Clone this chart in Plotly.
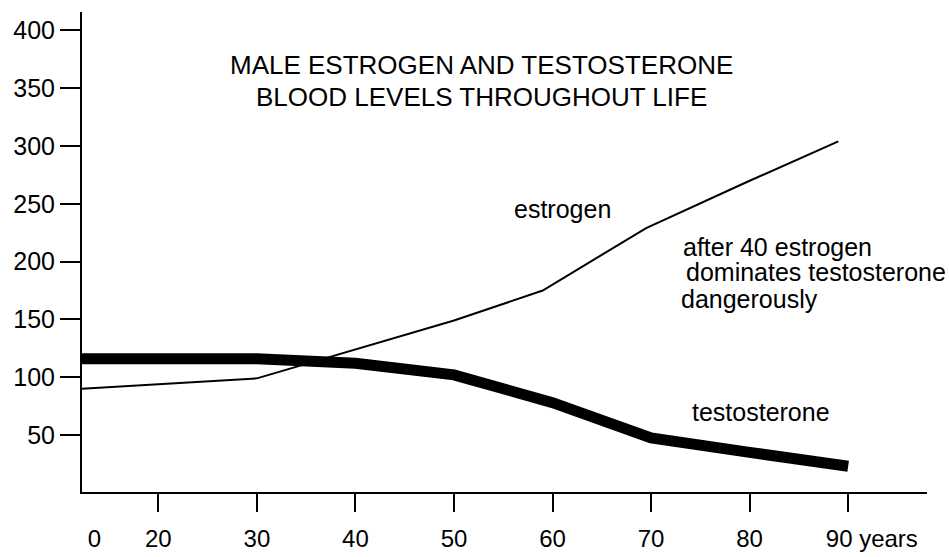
import plotly.graph_objects as go

# ---- data ----
ages_estrogen = [0, 30, 50, 59, 69.5, 79.5, 89]
estrogen = [90, 99, 149, 175, 229, 268, 304]

ages_testosterone = [0, 30, 40, 50, 60, 70, 80, 90]
testosterone = [116, 116, 112, 102, 78, 47.5, 35, 23]

tick_ages = [20, 30, 40, 50, 60, 70, 80, 90]
tick_labels = ["0", "20", "30", "40", "50", "60", "70", "80", "90 years"]
y_ticks = [50, 100, 150, 200, 250, 300, 350, 400]

title_lines = ["MALE ESTROGEN AND TESTOSTERONE", "BLOOD LEVELS THROUGHOUT LIFE"]
note_lines = ["after 40 estrogen", "dominates testosterone", "dangerously"]

# ---- axis geometry (style) ----
X_START = 12.25          # where age "0" sits (the axis origin; the 0-20 gap is compressed)
X_END = 98.0
Y_RANGE = [0.7, 415.9]
FONT = "Liberation Sans, Arial, sans-serif"


def xpos(age):
    return X_START if age == 0 else age


label_positions = [13.5] + tick_ages[:-1] + [92.4]

fig = go.Figure()
fig.add_trace(go.Scatter(
    x=[xpos(a) for a in ages_estrogen], y=estrogen, mode="lines",
    line=dict(color="black", width=2), xaxis="x2", yaxis="y",
    name="estrogen", hoverinfo="skip"))
fig.add_trace(go.Scatter(
    x=[xpos(a) for a in ages_testosterone], y=testosterone, mode="lines",
    line=dict(color="black", width=11), xaxis="x", yaxis="y",
    name="testosterone", hoverinfo="skip"))

annotations = []
for i, t in enumerate(title_lines):
    annotations.append(dict(x=52.8, y=[370, 342.5][i], xref="x", yref="y", text=t,
                            showarrow=False, xanchor="center", yanchor="middle",
                            font=dict(family=FONT, size=26, color="black")))
annotations.append(dict(x=55.9, y=245.5, xref="x", yref="y", text="estrogen",
                        showarrow=False, xanchor="left", yanchor="middle",
                        font=dict(family=FONT, size=25, color="black")))
for i, t in enumerate(note_lines):
    annotations.append(dict(x=[73.0, 73.3, 72.85][i], y=[212.2, 191.2, 167.5][i],
                            xref="x", yref="y", text=t, showarrow=False,
                            xanchor="left", yanchor="middle",
                            font=dict(family=FONT, size=25, color="black")))
annotations.append(dict(x=73.9, y=69.5, xref="x", yref="y", text="testosterone",
                        showarrow=False, xanchor="left", yanchor="middle",
                        font=dict(family=FONT, size=25, color="black")))

fig.update_layout(
    template="none",
    width=949, height=557,
    margin=dict(l=82, r=22, t=12, b=65, autoexpand=False),
    paper_bgcolor="white", plot_bgcolor="white",
    showlegend=False,
    font=dict(family=FONT, color="black"),
    xaxis=dict(range=[X_START, X_END], showline=True, linewidth=2, linecolor="black",
               ticks="outside", ticklen=24, tickwidth=2, tickcolor="rgba(0,0,0,0)",
               tickmode="array", tickvals=label_positions, ticktext=tick_labels,
               tickfont=dict(family=FONT, size=24, color="black"), automargin=False,
               showgrid=False, zeroline=False, fixedrange=True),
    xaxis2=dict(range=[X_START, X_END], overlaying="x", anchor="y", side="bottom",
                showline=False, ticks="outside", ticklen=19, tickwidth=2, tickcolor="black",
                tickmode="array", tickvals=tick_ages, showticklabels=False, automargin=False,
                showgrid=False, zeroline=False, fixedrange=True),
    yaxis=dict(range=Y_RANGE, showline=True, linewidth=2, linecolor="black",
               ticks="outside", ticklen=20, tickwidth=2, tickcolor="black",
               tickmode="array", tickvals=y_ticks, automargin=False,
               tickfont=dict(family=FONT, size=25, color="black"),
               showgrid=False, zeroline=False, fixedrange=True),
    annotations=annotations,
)

fig.write_html("out.html",
               config={"displayModeBar": False, "staticPlot": True},
               post_script="document.body.style.margin='0';document.body.style.overflow='hidden';")
